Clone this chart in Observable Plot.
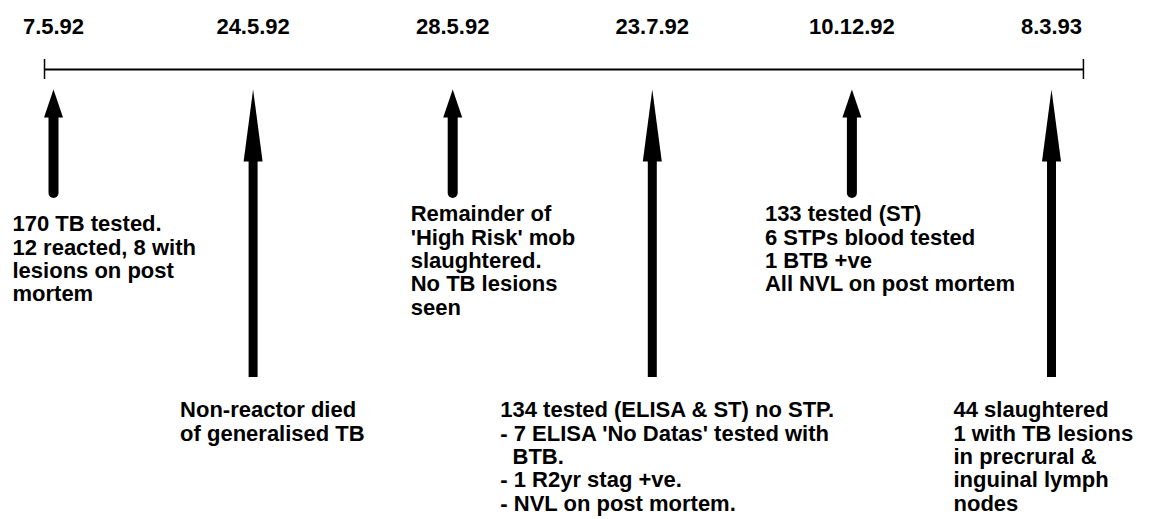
<!DOCTYPE html>
<html><head><meta charset="utf-8">
<script src="https://cdn.jsdelivr.net/npm/d3@7"></script>
<script src="https://cdn.jsdelivr.net/npm/@observablehq/plot@0.6"></script>
<style>html,body{margin:0;padding:0;background:#fff;} #chart svg{display:block}</style>
</head><body><div id="chart"></div>
<script>
// ---- data ----
const dates = ["7.5.92", "24.5.92", "28.5.92", "23.7.92", "10.12.92", "8.3.93"];
const eventOrder = [0, 1, 2, 3, 4, 5];
const arrowKind = ["short", "long", "short", "long", "short", "long"];
const notes = [
  "170 TB tested.\n12 reacted, 8 with\nlesions on post\nmortem",
  "Non-reactor died\nof generalised TB",
  "Remainder of\n'High Risk' mob\nslaughtered.\nNo TB lesions\nseen",
  "134 tested (ELISA & ST) no STP.\n- 7 ELISA 'No Datas' tested with\n\u00a0\u00a0BTB.\n- 1 R2yr stag +ve.\n- NVL on post mortem.",
  "133 tested (ST)\n6 STPs blood tested\n1 BTB +ve\nAll NVL on post mortem",
  "44 slaughtered\n1 with TB lesions\nin precrural &\ninguinal lymph\nnodes"
];

// ---- layout (pixels / index units) ----
const W = 1161, H = 519;
const FONT = "'Liberation Sans', Arial, Helvetica, sans-serif";
const layout = {
  lineStart: -0.045, lineEnd: 5.16, timelineY: 69, tickHalf: 10,
  labelTop: 18,
  tipY: 89,
  shortHeadBase: 117, shortBottom: 193,
  longHeadBase: 161, longBottom: 377,
  noteTop: [214, 400, 204, 400, 204, 400],
  noteDx: [-41, -73, -42, -152, -87, -98]
};

const events = dates.map((d, i) => ({date: d, i: eventOrder[i], kind: arrowKind[i], note: notes[i]}));
const shortEv = events.filter(e => e.kind === "short");
const longEv = events.filter(e => e.kind === "long");

const textStyle = {fontSize: 22, fontWeight: "bold", fill: "black"};

const marks = [
  Plot.ruleY([layout.timelineY], {x1: layout.lineStart, x2: layout.lineEnd, stroke: "black", strokeWidth: 2}),
  Plot.ruleX([layout.lineStart, layout.lineEnd], {y1: layout.timelineY - layout.tickHalf, y2: layout.timelineY + layout.tickHalf, stroke: "black", strokeWidth: 1.5}),
  Plot.text(events, {x: "i", y: layout.labelTop, text: "date", lineAnchor: "top", ...textStyle}),
  Plot.ruleX(shortEv, {x: "i", y1: layout.shortHeadBase - 2, y2: layout.shortBottom, stroke: "black", strokeWidth: 10, strokeLinecap: "round"}),
  Plot.ruleX(longEv, {x: "i", y1: layout.longHeadBase - 2, y2: layout.longBottom, stroke: "black", strokeWidth: 9}),
  Plot.vector(shortEv, {x: "i", y: layout.shortHeadBase, length: layout.shortHeadBase - layout.tipY, r: 9.5, shape: "spike", anchor: "start", fill: "black", stroke: "none"}),
  Plot.vector(longEv, {x: "i", y: layout.longHeadBase, length: layout.longHeadBase - layout.tipY, r: 9.5, shape: "spike", anchor: "start", fill: "black", stroke: "none"}),
  ...events.map((e, k) => Plot.text([e], {
    x: "i", y: layout.noteTop[k], text: "note", textAnchor: "start", lineAnchor: "top",
    dx: layout.noteDx[k], lineHeight: 1.065, ...textStyle
  }))
];

const chart = Plot.plot({
  width: W, height: H,
  marginLeft: 53, marginRight: 110, marginTop: 0, marginBottom: 0,
  x: {domain: [0, 5], axis: null},
  y: {domain: [0, H], range: [0, H], axis: null},
  style: {fontFamily: FONT, background: "white", color: "black"},
  marks
});
document.getElementById("chart").appendChild(chart);
</script>
</body></html>
